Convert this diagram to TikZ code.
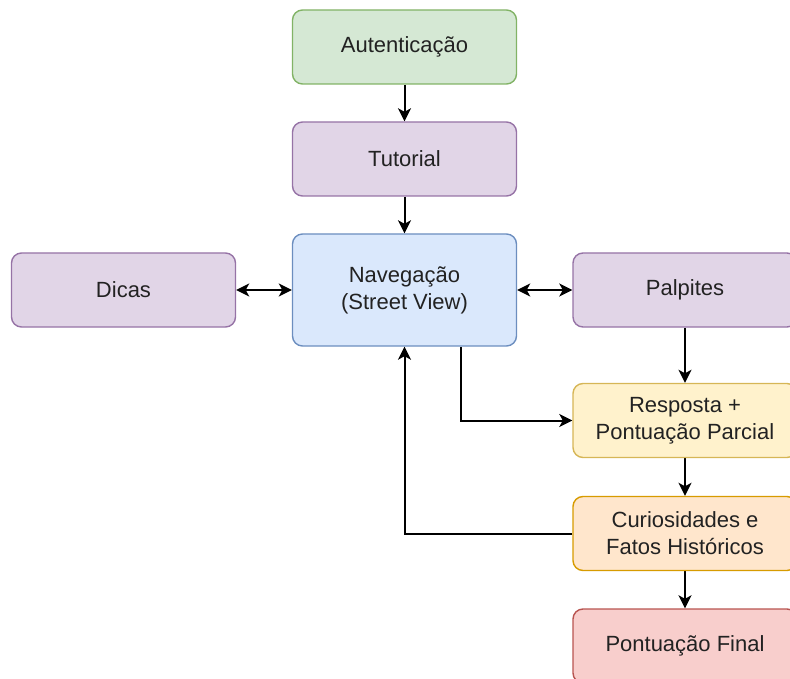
\documentclass[tikz,border=0pt]{standalone}
\usepackage{fontspec}
\setmainfont{Liberation Sans}
\usepackage{tikz}
\usetikzlibrary{arrows.meta}
\definecolor{greenfill}{HTML}{D5E8D4}
\definecolor{greenline}{HTML}{82B366}
\definecolor{purplefill}{HTML}{E1D5E7}
\definecolor{purpleline}{HTML}{9673A6}
\definecolor{bluefill}{HTML}{DAE8FC}
\definecolor{blueline}{HTML}{6C8EBF}
\definecolor{yellowfill}{HTML}{FFF2CC}
\definecolor{yellowline}{HTML}{D6B656}
\definecolor{orangefill}{HTML}{FFE6CC}
\definecolor{orangeline}{HTML}{D79B00}
\definecolor{redfill}{HTML}{F8CECC}
\definecolor{redline}{HTML}{B85450}
\definecolor{textgray}{HTML}{222222}
\pgfdeclarelayer{edgelayer}
\pgfdeclarelayer{nodelayer}
\pgfsetlayers{edgelayer,nodelayer,main}
\tikzstyle{box}=[rectangle, rounded corners=10pt, line width=1.4pt, minimum width=224pt, minimum height=74pt, inner sep=0pt, align=center, text=textgray, font=\fontsize{22}{27}\selectfont]
\tikzstyle{greenbox}=[box, fill=greenfill, draw=greenline]
\tikzstyle{purplebox}=[box, fill=purplefill, draw=purpleline]
\tikzstyle{bluebox}=[box, fill=bluefill, draw=blueline, minimum height=112pt]
\tikzstyle{yellowbox}=[box, fill=yellowfill, draw=yellowline]
\tikzstyle{orangebox}=[box, fill=orangefill, draw=orangeline]
\tikzstyle{redbox}=[box, fill=redfill, draw=redline]
\tikzstyle{arrow}=[-{Stealth[length=13pt, width=13pt, inset=3.5pt]}, draw=black, line width=2pt]
\tikzstyle{biarrow}=[{Stealth[length=13pt, width=13pt, inset=3.5pt]}-{Stealth[length=13pt, width=13pt, inset=3.5pt]}, draw=black, line width=2pt]

\begin{document}
\begin{tikzpicture}[x=1pt, y=-1pt]
    \useasboundingbox (0, 0) rectangle (790, 679);
    \begin{pgfonlayer}{nodelayer}
        \node [style=greenbox] (auth) at (404.5, 47) {Autenticação};
        \node [style=purplebox] (tutorial) at (404.5, 159) {Tutorial};
        \node [style=bluebox] (nav) at (404.5, 290) {Navegação\\(Street View)};
        \node [style=purplebox] (dicas) at (123.5, 290) {Dicas};
        \node [style=purplebox] (palpites) at (685, 290) {Palpites};
        \node [style=yellowbox] (resposta) at (685, 420.5) {Resposta +\\Pontuação Parcial};
        \node [style=orangebox] (curios) at (685, 533.5) {Curiosidades e\\Fatos Históricos};
        \node [style=redbox] (final) at (685, 646) {Pontuação Final};
    \end{pgfonlayer}
    \begin{pgfonlayer}{edgelayer}
        \draw [style=arrow] (auth) to (tutorial);
        \draw [style=arrow] (tutorial) to (nav);
        \draw [style=biarrow] (dicas) to (nav);
        \draw [style=biarrow] (nav) to (palpites);
        \draw [style=arrow] (palpites) to (resposta);
        \draw [style=arrow] ([xshift=56.5pt]nav.south) |- (resposta.west);
        \draw [style=arrow] (resposta) to (curios);
        \draw [style=arrow] (curios.west) -| (nav.south);
        \draw [style=arrow] (curios) to (final);
    \end{pgfonlayer}
\end{tikzpicture}
\end{document}
